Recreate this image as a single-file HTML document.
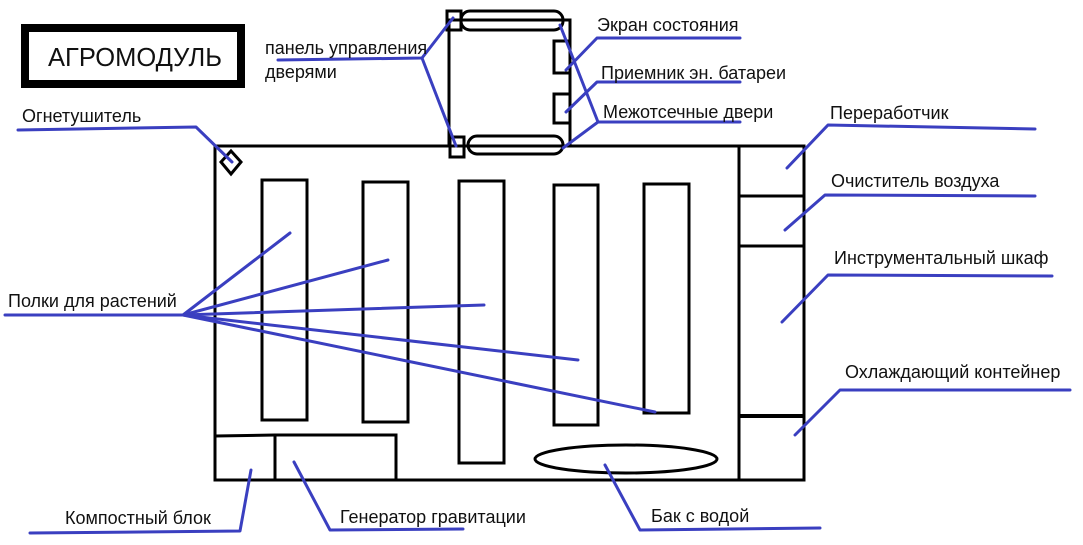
<!DOCTYPE html>
<html><head><meta charset="utf-8"><style>
html,body{margin:0;padding:0;background:#fff;width:1083px;height:545px;overflow:hidden}
svg text{font-family:"Liberation Sans","DejaVu Sans",sans-serif;font-size:18px;fill:#111}
</style></head><body>
<svg width="1083" height="545" viewBox="0 0 1083 545" xmlns="http://www.w3.org/2000/svg">
<rect x="0" y="0" width="1083" height="545" fill="#fff"/>
<rect x="25" y="28" width="216" height="56" fill="none" stroke="#000" stroke-width="8"/>
<text x="135" y="66" text-anchor="middle" style="font-size:25.5px">АГРОМОДУЛЬ</text>
<g fill="none" stroke="#000" stroke-width="3">
<rect x="215" y="146" width="589" height="334"/>
<line x1="739" y1="146" x2="739" y2="480"/>
<line x1="739" y1="196" x2="804" y2="196"/>
<line x1="739" y1="246" x2="804" y2="246"/>
<line x1="739" y1="416" x2="804" y2="416" stroke-width="4"/>
<rect x="262" y="180" width="45" height="240"/>
<rect x="363" y="182" width="45" height="240"/>
<rect x="459" y="181" width="45" height="282"/>
<rect x="554" y="185" width="44" height="240"/>
<rect x="644" y="184" width="45" height="229"/>
<polyline points="215,436 275,435 396,435 396,480"/>
<line x1="275" y1="435" x2="275" y2="480"/>
<ellipse cx="626" cy="459" rx="91" ry="14"/>
<polygon points="231,151 241,162 231,174 221,162"/>
<rect x="449" y="20" width="121" height="126"/>
<rect x="447" y="11" width="14" height="19"/>
<rect x="450" y="137" width="14" height="20"/>
<rect x="461" y="11" width="102" height="19" rx="9"/>
<rect x="468" y="136" width="95" height="18" rx="9"/>
<rect x="554" y="41" width="16" height="32"/>
<rect x="554" y="94" width="16" height="29"/>
</g>
<g fill="none" stroke="#3a3fc0" stroke-width="3" stroke-linecap="round" stroke-linejoin="round">
<polyline points="18,130 196,127 232,162"/>
<polyline points="278,60 422,58 453,18"/>
<line x1="422" y1="58" x2="456" y2="146"/>
<polyline points="740,38 597,38 566,70"/>
<polyline points="740,82 597,82 566,112"/>
<polyline points="740,122 598,122 560,25"/>
<line x1="598" y1="122" x2="563" y2="148"/>
<polyline points="1035,129 828,125 787,168"/>
<polyline points="1035,196 825,195 785,230"/>
<polyline points="1052,276 828,275 782,322"/>
<polyline points="1070,390 840,390 795,435"/>
<polyline points="5,315 183,315 290,233"/>
<line x1="183" y1="315" x2="388" y2="260"/>
<line x1="183" y1="315" x2="484" y2="305"/>
<line x1="183" y1="315" x2="578" y2="360"/>
<line x1="183" y1="315" x2="655" y2="412"/>
<polyline points="30,533 240,531 251,470"/>
<polyline points="463,529 330,530 294,462"/>
<polyline points="820,528 640,530 605,465"/>
</g>
<text x="265" y="54">панель управления</text>
<text x="265" y="78">дверями</text>
<text x="22" y="122">Огнетушитель</text>
<text x="597" y="31">Экран состояния</text>
<text x="601" y="79">Приемник эн. батареи</text>
<text x="603" y="118">Межотсечные двери</text>
<text x="830" y="119">Переработчик</text>
<text x="831" y="187">Очиститель воздуха</text>
<text x="834" y="264">Инструментальный шкаф</text>
<text x="845" y="378">Охлаждающий контейнер</text>
<text x="8" y="307">Полки для растений</text>
<text x="65" y="524">Компостный блок</text>
<text x="340" y="523">Генератор гравитации</text>
<text x="651" y="522">Бак с водой</text>
</svg>
</body></html>
